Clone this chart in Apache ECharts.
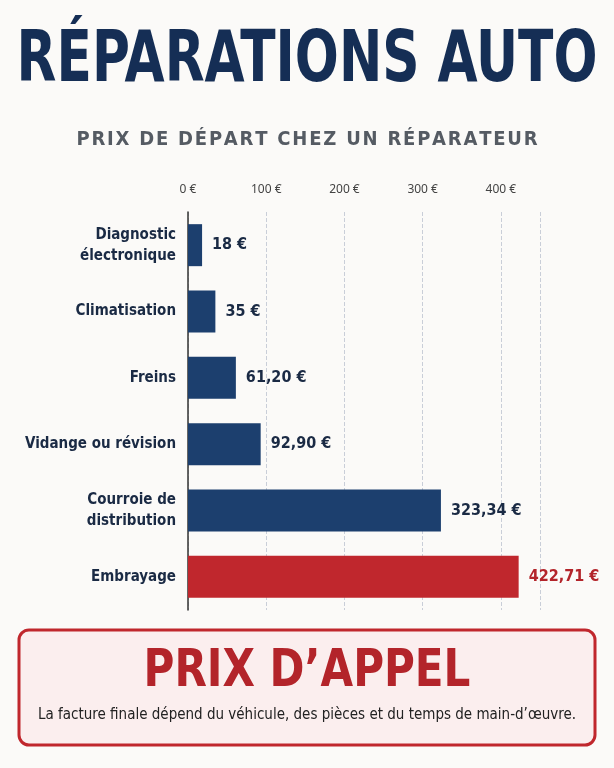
<!DOCTYPE html>
<html><head><meta charset="utf-8">
<script src="https://cdn.jsdelivr.net/npm/echarts@6/dist/echarts.min.js"></script>
<style>html,body{margin:0;padding:0;background:#fbfaf8}#c{width:614px;height:768px}</style>
</head><body><div id="c"></div>
<script>
const categories = ['Diagnostic\nélectronique','Climatisation','Freins','Vidange ou révision','Courroie de\ndistribution','Embrayage'];
const values = [18, 35, 61.20, 92.90, 323.34, 422.71];
const valueLabels = ['18 €','35 €','61,20 €','92,90 €','323,34 €','422,71 €'];
const barColors = ['#1c3f6e','#1c3f6e','#1c3f6e','#1c3f6e','#1c3f6e','#c0272d'];
const tickLabels = ['0 €','100 €','200 €','300 €','400 €'];
const title = 'RÉPARATIONS AUTO';
const subtitle = 'PRIX DE DÉPART CHEZ UN RÉPARATEUR';
const boxTitle = 'PRIX D’APPEL';
const boxText = 'La facture finale dépend du véhicule, des pièces et du temps de main-d’œuvre.';

const chart = echarts.init(document.getElementById('c'));
const font = 'DejaVu Sans Condensed';
chart.setOption({
  backgroundColor: '#fbfaf8',
  grid: {left: 188, right: 74, top: 212, bottom: 158},
  xAxis: {type: 'value', min: 0, max: 450, interval: 100, position: 'top',
    axisLabel: {showMaxLabel: false, color: '#444', fontFamily: 'Noto Sans', fontSize: 12, margin: 16,
      formatter: v => tickLabels[v / 100] || ''},
    splitLine: {lineStyle: {type: 'dashed', color: '#c9ced8'}},
    axisLine: {show: false}, axisTick: {show: false}},
  yAxis: {type: 'category', inverse: true, data: categories,
    axisLine: {lineStyle: {color: '#333', width: 1.5}}, axisTick: {show: false},
    axisLabel: {color: '#1a2a44', fontFamily: font, fontWeight: 'bold', fontSize: 15, margin: 12, lineHeight: 21}},
  series: [{type: 'bar', barWidth: 42,
    data: values.map((v, i) => ({value: v, itemStyle: {color: barColors[i]},
      label: {color: i === 5 ? '#b3242a' : '#1a2a44'}})),
    label: {show: true, position: 'right', distance: 10, fontFamily: font, fontWeight: 'bold', fontSize: 16,
      formatter: p => valueLabels[p.dataIndex]}}],
  graphic: [
    {type: 'text', x: 307, y: 26, scaleX: 0.8, originX: 0, originY: 0,
      style: {text: title, fill: '#152e55', font: `bold 72px "${font}"`, textAlign: 'center'}},
    {type: 'text', left: 'center', top: 130, style: {text: subtitle.split('').join('\u200A'), fill: '#555b63', font: `bold 20px "${font}"`}},
    {type: 'rect', shape: {x: 19, y: 630, width: 576, height: 115, r: 10},
      style: {fill: '#fbeeee', stroke: '#c0272d', lineWidth: 3}},
    {type: 'text', x: 307, y: 646, scaleX: 0.9, style: {text: boxTitle, fill: '#b3242a', font: `bold 52px "${font}"`, textAlign: 'center'}},
    {type: 'text', left: 'center', top: 708, style: {text: boxText, fill: '#222', font: `15px "${font}"`}}
  ]
});
</script></body></html>
